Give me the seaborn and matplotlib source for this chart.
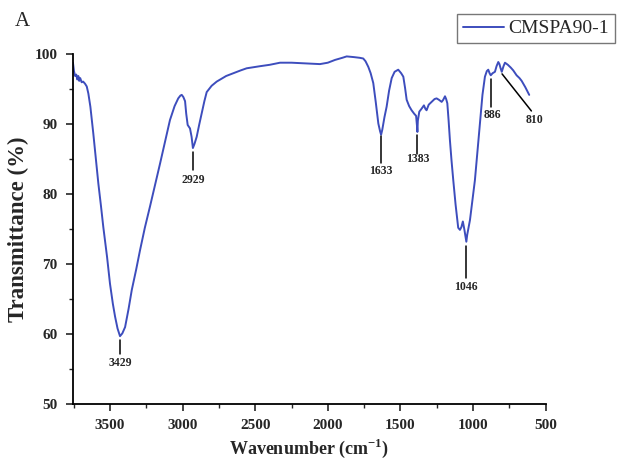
import matplotlib
matplotlib.use("Agg")
import matplotlib.pyplot as plt
import seaborn as sns
import pandas as pd
from matplotlib.ticker import MultipleLocator
from matplotlib.lines import Line2D

sns.set_theme(style="ticks")
plt.rcParams['font.family'] = ['Liberation Serif', 'DejaVu Serif']
plt.rcParams['mathtext.fontset'] = 'custom'
plt.rcParams['mathtext.rm'] = 'Liberation Serif'
plt.rcParams['mathtext.bf'] = 'Liberation Serif:bold'

wavenumber = [
    3755, 3748, 3740, 3732, 3725, 3718, 3712, 3705, 3695, 3685,
    3672, 3660, 3649, 3635, 3615, 3598, 3580, 3562, 3546, 3520,
    3500, 3480, 3465, 3448, 3431, 3415, 3396, 3372, 3350, 3320,
    3293, 3260, 3225, 3190, 3155, 3120, 3087, 3055, 3030, 3015,
    3006, 2995, 2983, 2975, 2965, 2949, 2938, 2929, 2918, 2903,
    2885, 2868, 2850, 2834, 2800, 2765, 2700, 2651, 2600, 2559,
    2467, 2400, 2329, 2250, 2150, 2054, 2000, 1950, 1900, 1870,
    1820, 1780, 1756, 1740, 1721, 1705, 1687, 1670, 1652, 1640,
    1633, 1625, 1610, 1595, 1578, 1560, 1540, 1515, 1495, 1480,
    1468, 1457, 1440, 1423, 1405, 1392, 1386, 1383, 1380, 1370,
    1355, 1338, 1328, 1320, 1305, 1285, 1265, 1251, 1235, 1216,
    1205, 1193, 1185, 1177, 1168, 1159, 1148, 1136, 1120, 1102,
    1090, 1080, 1070, 1060, 1050, 1046, 1040, 1030, 1021, 1005,
    987, 970, 952, 935, 918, 905, 895, 886, 878, 865,
    849, 838, 826, 818, 810, 802, 790, 780, 760, 740,
    723, 700, 680, 665, 640, 613,
]
transmittance = [
    98.8, 97.6, 96.9, 97.1, 96.4, 96.9, 96.2, 96.6, 96.0, 96.1,
    95.8, 95.4, 94.4, 92.5, 88.7, 85.2, 81.5, 78.3, 75.3, 71.0,
    67.2, 64.3, 62.5, 60.8, 59.7, 60.1, 61.0, 63.6, 66.3, 69.2,
    72.0, 75.2, 78.2, 81.3, 84.4, 87.6, 90.6, 92.6, 93.7, 94.1,
    94.2, 93.9, 93.3, 91.5, 89.9, 89.4, 88.2, 86.6, 87.2, 88.2,
    90.0, 91.6, 93.3, 94.6, 95.5, 96.1, 96.9, 97.3, 97.7, 98.0,
    98.3, 98.5, 98.8, 98.8, 98.7, 98.6, 98.8, 99.2, 99.5, 99.7,
    99.6, 99.5, 99.4, 99.0, 98.2, 97.3, 95.9, 93.2, 90.1, 89.0,
    88.5, 89.2, 91.0, 92.5, 94.8, 96.6, 97.5, 97.8, 97.3, 96.8,
    95.2, 93.5, 92.6, 92.0, 91.5, 91.2, 89.8, 88.9, 90.5, 91.8,
    92.2, 92.7, 92.2, 92.0, 92.8, 93.2, 93.6, 93.7, 93.5, 93.2,
    93.5, 94.0, 93.6, 93.0, 90.5, 87.7, 84.8, 82.0, 78.5, 75.2,
    74.9, 75.3, 76.1, 75.0, 73.7, 73.2, 74.2, 75.3, 76.3, 79.0,
    82.0, 86.0, 90.1, 94.2, 96.8, 97.6, 97.8, 97.3, 97.0, 97.3,
    97.5, 98.3, 98.9, 98.6, 98.0, 97.5, 98.3, 98.8, 98.5, 98.1,
    97.7, 97.0, 96.6, 96.2, 95.3, 94.2,
]

peak_labels = ["3429", "2929", "1633", "1383", "1046", "886", "810"]
series_name = "CMSPA90-1"

df = pd.DataFrame({"Wavenumber": wavenumber, "Transmittance": transmittance, "Sample": series_name})

fig = plt.figure(figsize=(6.25, 4.63), dpi=100)
ax = fig.add_axes([0.1165, 0.1274, 0.7565, 0.7553])

line_color = "#3d4dbd"
sns.lineplot(data=df, x="Wavenumber", y="Transmittance", hue="Sample", palette=[line_color],
             sort=False, estimator=None, linewidth=1.4, ax=ax, legend=False)

ax.set_xlim(3756, 500)
ax.set_ylim(50, 100)
ax.xaxis.set_major_locator(MultipleLocator(500))
ax.xaxis.set_minor_locator(MultipleLocator(250))
ax.yaxis.set_major_locator(MultipleLocator(10))
ax.yaxis.set_minor_locator(MultipleLocator(5))
ax.tick_params(which="major", direction="out", length=5, width=1.2, labelsize=11, pad=6)
ax.tick_params(which="minor", direction="out", length=3, width=1.0)
for lab in ax.get_xticklabels() + ax.get_yticklabels():
    lab.set_fontweight("bold")
for s in ["top", "right"]:
    ax.spines[s].set_visible(False)
for s in ["left", "bottom"]:
    ax.spines[s].set_linewidth(1.3)
    ax.spines[s].set_color("black")

ax.set_xlabel("Wavenumber (cm$^{\\mathbf{-1}}$)", fontsize=13, fontweight="bold", labelpad=3)
ax.set_ylabel("Transmittance (%)", fontsize=16.5, fontweight="bold", labelpad=4)

# peak annotations: (label, line x0, y0, x1, y1, text x, text y)
annot = [
    (peak_labels[0], 3429, 59.2, 3429, 57.2, 3429, 55.9),
    (peak_labels[1], 2929, 86.0, 2929, 83.4, 2929, 82.1),
    (peak_labels[2], 1633, 88.3, 1633, 84.4, 1633, 83.3),
    (peak_labels[3], 1383, 88.4, 1383, 85.8, 1383, 85.0),
    (peak_labels[4], 1046, 72.6, 1046, 68.0, 1046, 66.8),
    (peak_labels[5], 878, 96.4, 878, 92.5, 868, 91.3),
    (peak_labels[6], 800, 97.2, 598, 91.9, 580, 90.6),
]
for lab, x0, y0, x1, y1, tx, ty in annot:
    ax.plot([x0, x1], [y0, y1], color="black", linewidth=1.1)
    ax.text(tx, ty, lab, ha="center", va="center", fontsize=8.5, fontweight="bold")

handle = Line2D([0], [0], color=line_color, linewidth=1.4)
leg = fig.legend([handle], [series_name], loc="upper right",
                 bbox_to_anchor=(615 / 625, 1 - 14 / 463), borderaxespad=0,
                 fontsize=14, frameon=True, fancybox=False, edgecolor="#555555",
                 handlelength=2.1, borderpad=0.3, handletextpad=0.25)
leg.get_frame().set_linewidth(1.0)

fig.text(15 / 625, 1 - 22 / 463, "A", fontsize=15, ha="left", va="center")

fig.savefig("out.png", dpi=100)
